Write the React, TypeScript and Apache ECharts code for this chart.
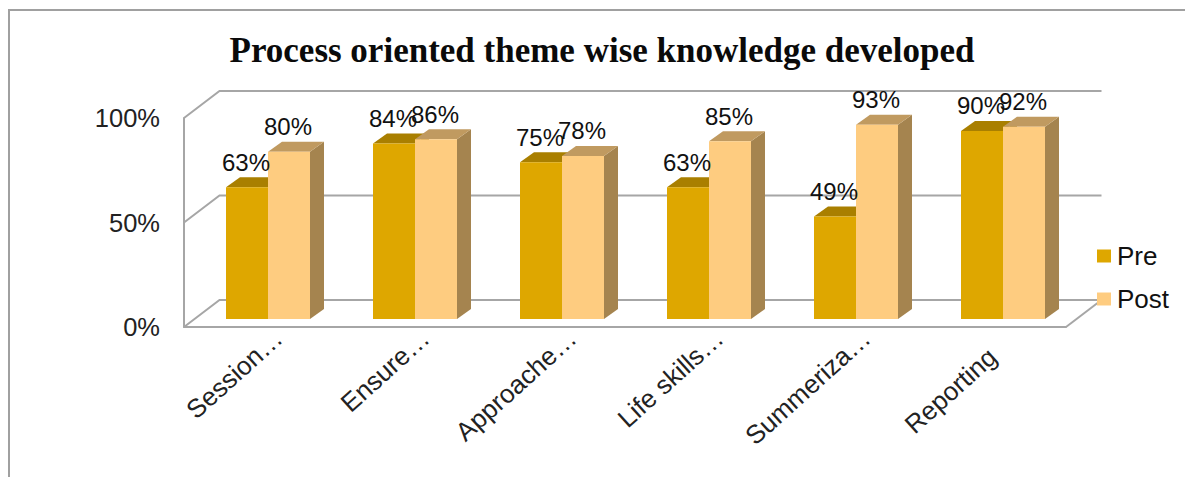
import React, { useEffect, useRef } from "react";
import * as echarts from "echarts";

const titleText = "Process oriented theme wise knowledge developed";
const categories = ["Session…", "Ensure…", "Approache…", "Life skills…", "Summeriza…", "Reporting"];
const preValues = [63, 84, 75, 63, 49, 90];
const postValues = [80, 86, 78, 85, 93, 92];
const wallTicks = [0, 50, 100];

const DX = 14, DY = 10;       // bar depth
const SHIFT_X = 10.5, SHIFT_Y = 8; // bars stand in the middle of the floor
const WALL_X = 35.5, WALL_Y = 27;  // depth of the floor
const WALL = "#a6a6a6";

function barSeries(name: string, values: number[], offsetIndex: number, front: string, top: string, side: string) {
  return {
    type: "custom",
    name,
    coordinateSystem: "cartesian2d",
    itemStyle: { color: front },
    z: 3,
    data: values.map((v, i) => [i, v]),
    renderItem: (_p: any, api: any) => {
      const cat = api.value(0);
      const val = api.value(1);
      const band = api.size([1, 0])[0];
      const w = band * (42 / 147);
      const c = api.coord([cat, val]);
      const b = api.coord([cat, 0]);
      const x0 = c[0] + SHIFT_X - w + offsetIndex * w;
      const x1 = x0 + w;
      const yT = c[1] - SHIFT_Y;
      const yB = b[1] - SHIFT_Y;
      return {
        type: "group",
        children: [
          { type: "polygon", z2: 2 + offsetIndex * 4, shape: { points: [[x1, yT], [x1 + DX, yT - DY], [x1 + DX, yB - DY], [x1, yB]] }, style: { fill: side } },
          { type: "polygon", z2: 2 + offsetIndex * 4, shape: { points: [[x0, yT], [x0 + DX, yT - DY], [x1 + DX, yT - DY], [x1, yT]] }, style: { fill: top } },
          { type: "rect", z2: 3 + offsetIndex * 4, shape: { x: x0, y: yT, width: w, height: yB - yT }, style: { fill: front } },
          {
            type: "text", z2: 50,
            x: (x0 + x1) / 2 - 1, y: yT - 25,
            style: { text: `${val}%`, fill: "#111", font: "24px 'Liberation Sans'", textAlign: "center", textVerticalAlign: "middle" },
          },
        ],
      };
    },
  };
}

export default function App() {
  const ref = useRef<HTMLDivElement>(null);
  useEffect(() => {
    const chart = echarts.init(ref.current!, null, { renderer: "svg" });
    chart.setOption({
      animation: false,
      backgroundColor: "#ffffff",
      title: {
        text: titleText, left: 597, top: 28, textAlign: "center",
        textStyle: { fontFamily: "'Liberation Serif'", fontWeight: "bold", fontSize: 35, color: "#0a0a0a" },
      },
      legend: {
        left: 1092, top: 238, orient: "vertical", itemWidth: 14, itemHeight: 13, itemGap: 17,
        itemStyle: { borderWidth: 0 }, icon: "rect", data: ["Pre", "Post"],
        textStyle: { fontFamily: "'Liberation Sans'", fontSize: 26, color: "#111", padding: [0, 0, 0, 1] },
      },
      grid: { left: 184, top: 118, width: 882, height: 209, containLabel: false },
      xAxis: {
        type: "category", data: categories,
        axisLine: { lineStyle: { color: WALL, width: 2 } },
        axisTick: { show: false },
        axisLabel: {
          interval: 0, rotate: 42, margin: 26,
          fontFamily: "'Liberation Sans'", fontSize: 26, color: "#222",
          formatter: (v: string) => (v.endsWith("…") ? `{cut|${v}}` : `{full|${v}}`),
          rich: {
            cut: { fontFamily: "'Liberation Sans'", fontSize: 26, color: "#222", padding: [0, -28, 0, 0] },
            full: { fontFamily: "'Liberation Sans'", fontSize: 26, color: "#222", padding: [0, 0, 0, 0] },
          },
        },
      },
      yAxis: {
        type: "value", min: 0, max: 100, interval: 50,
        axisLine: { show: true, lineStyle: { color: WALL, width: 2 } },
        axisTick: { show: false },
        splitLine: { show: false },
        axisLabel: {
          margin: 24, formatter: "{value}%",
          fontFamily: "'Liberation Sans'", fontSize: 25.5, color: "#222",
        },
      },
      series: [
        {
          type: "custom", coordinateSystem: "cartesian2d", silent: true, z: 1,
          data: wallTicks.map((t) => [t]),
          renderItem: (_p: any, api: any) => {
            const t = api.value(0);
            const band = api.size([1, 0])[0];
            const left = api.coord([0, t]);
            const x0 = left[0] - band / 2;
            const x1 = x0 + band * categories.length;
            const y = left[1];
            const points = [[x0, y], [x0 + WALL_X, y - WALL_Y], [x1 + WALL_X, y - WALL_Y]];
            const children: any[] = [
              { type: "polyline", shape: { points }, style: { stroke: WALL, lineWidth: 2, fill: "none" } },
            ];
            if (t === 0) {
              children.push({ type: "line", shape: { x1, y1: y, x2: x1 + WALL_X, y2: y - WALL_Y }, style: { stroke: WALL, lineWidth: 2 } });
            }
            return { type: "group", children };
          },
        },
        barSeries("Pre", preValues, 0, "#dea700", "#a97f00", "#97740a"),
        barSeries("Post", postValues, 1, "#fecc80", "#c09a60", "#a5844f"),
      ],
      graphic: [
        { type: "polyline", silent: true, shape: { points: [[9, 477], [9, 10], [1185, 10]] }, style: { stroke: "#a0a0a0", lineWidth: 2, fill: "none" } },
      ],
    });
    return () => chart.dispose();
  }, []);
  return <div ref={ref} style={{ position: "fixed", left: 0, top: 0, width: 1185, height: 477 }} />;
}
